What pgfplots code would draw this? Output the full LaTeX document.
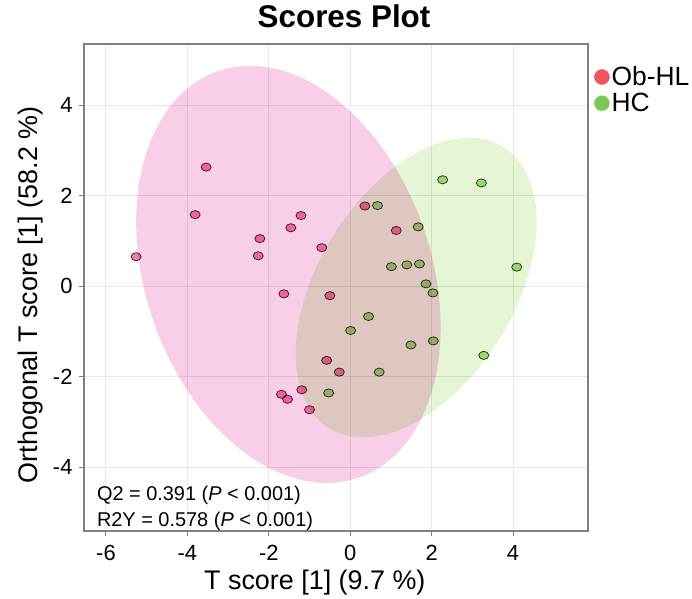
\documentclass[border=0pt]{standalone}
\usepackage{pgfplots}
\pgfplotsset{compat=1.18}
\usepackage{fontspec}
\setmainfont{Liberation Sans}
\definecolor{pinkfill}{RGB}{249,206,231}
\definecolor{greenfill}{RGB}{228,246,214}
\definecolor{pinkpt}{RGB}{250,120,175}
\definecolor{greenpt}{RGB}{170,225,130}
\definecolor{legred}{RGB}{238,85,95}
\definecolor{leggreen}{RGB}{125,200,85}
\definecolor{framegray}{RGB}{128,128,128}
\definecolor{gridgray}{RGB}{232,232,232}
\begin{document}
\begin{tikzpicture}
\begin{axis}[
  scale only axis, width=504bp, height=487bp,
  xmin=-6.54, xmax=5.84, ymin=-5.41, ymax=5.35,
  xtick={-6,-4,-2,0,2,4}, ytick={-4,-2,0,2,4},
  grid=major, grid style={gridgray, line width=1pt},
  axis line style={framegray, line width=1.5pt},
  tick style={framegray, line width=1pt},
  tick align=outside, major tick length=5bp, tick pos=left,
  ticklabel style={font=\fontsize{22}{22}\selectfont},
  /pgf/number format/assume math mode=true,
  xticklabel style={anchor=base, yshift=-24bp},
  yticklabel style={anchor=east, xshift=-3bp},
  xlabel={T score [1] (9.7 \%)},
  ylabel={Orthogonal T score [1] (58.2 \%)},
  label style={font=\fontsize{27}{27}\selectfont},
  xlabel style={at={(axis description cs:0.458,-0.121)}, anchor=base},
  ylabel style={at={(axis description cs:-0.0913,0.485)}, anchor=base},
  title={Scores Plot},
  title style={font=\bfseries\fontsize{31.5}{31.5}\selectfont, at={(axis description cs:0.516,1.021)}, anchor=base},
  legend style={at={(axis description cs:1.012,0.958)}, anchor=north west, draw=none, fill=none,
    font=\fontsize{26.5}{26.5}\selectfont, inner sep=0pt, row sep=2bp,
    /tikz/every even column/.append style={column sep=0pt}},
  legend cell align=left,
]
% confidence ellipses (centre, half-extents and tilt)
\addplot[draw=none, fill=pinkfill, blend mode=multiply, domain=0:360, samples=150, forget plot]
  ({-1.52+3.74*cos(x)}, {0.26-1.16*cos(x)+4.46*sin(x)});
\addplot[draw=none, fill=greenfill, blend mode=multiply, domain=0:360, samples=150, forget plot]
  ({1.62+2.96*cos(x)}, {-0.03+1.46*cos(x)+2.97*sin(x)});
% Ob-HL
\addplot[only marks, mark=*, mark size=4.8bp, blend mode=multiply, forget plot,
  mark options={fill=pinkpt, draw=black!75, line width=0.8pt, xscale=1.05, yscale=0.85}]
  coordinates {
  (-3.54,2.63) (-3.81,1.58) (-5.26,0.65) (-2.22,1.05) (-2.26,0.67) (-1.21,1.56)
  (-1.46,1.29) (-1.63,-0.17) (-0.70,0.85) (-0.50,-0.21) (0.36,1.77) (1.13,1.23)
  (-0.58,-1.64) (-0.27,-1.90) (-1.69,-2.39) (-1.54,-2.50) (-1.19,-2.29) (-1.00,-2.73)};
% HC
\addplot[only marks, mark=*, mark size=4.8bp, blend mode=multiply, forget plot,
  mark options={fill=greenpt, draw=black!75, line width=0.8pt, xscale=1.05, yscale=0.85}]
  coordinates {
  (2.27,2.35) (3.22,2.28) (0.67,1.78) (1.67,1.31) (1.01,0.43) (1.39,0.47)
  (1.70,0.49) (4.09,0.42) (1.86,0.05) (2.03,-0.15) (0.45,-0.67) (0.01,-0.98)
  (1.49,-1.30) (2.04,-1.21) (3.28,-1.53) (0.71,-1.90) (-0.53,-2.36)};
\addlegendimage{legend image code/.code={\fill[legred] (8bp,0bp) circle (7.5bp);}}
\addlegendentry{Ob-HL}
\addlegendimage{legend image code/.code={\fill[leggreen] (8bp,0bp) circle (7.5bp);}}
\addlegendentry{HC}
\node[anchor=base west, inner sep=0pt, font=\fontsize{20}{20}\selectfont] at (axis cs:-6.225,-4.73) {Q2 = 0.391 (\textit{P} < 0.001)};
\node[anchor=base west, inner sep=0pt, font=\fontsize{20}{20}\selectfont] at (axis cs:-6.225,-5.30) {R2Y = 0.578 (\textit{P} < 0.001)};
\end{axis}
\pgfresetboundingbox
\path (current axis.south west) ++(-84bp,-68bp) rectangle ++(692bp,599bp);
\end{tikzpicture}
\end{document}
